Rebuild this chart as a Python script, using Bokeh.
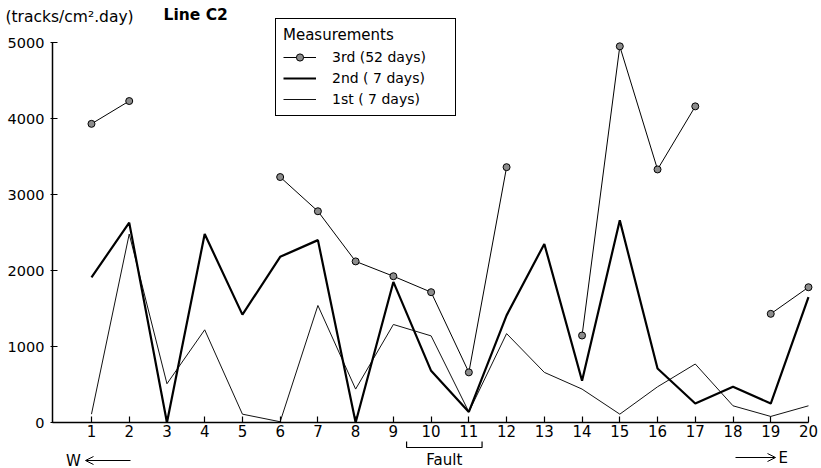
from bokeh.plotting import figure
from bokeh.models import (Range1d, FixedTicker, Legend, LegendItem, Label, Arrow,
                          OpenHead, PolyAnnotation)
from bokeh.embed import file_html
from bokeh.resources import INLINE

# ---------------- data ----------------
stations = list(range(1, 21))
nan = float("nan")
third_52days = [3930, 4230, nan, nan, nan, 3230, 2780, 2120, 1925, 1715,
                660, 3360, nan, 1145, 4950, 3330, 4160, nan, 1430, 1780]
second_7days = [1910, 2630, 0, 2480, 1420, 2180, 2400, 0, 1850, 680,
                140, 1410, 2350, 550, 2660, 710, 250, 470, 250, 1650]
first_7days = [110, 2480, 510, 1220, 110, 10, 1540, 440, 1290, 1140,
               140, 1170, 660, 440, 110, 470, 770, 220, 80, 220]
y_ticks = [0, 1000, 2000, 3000, 4000, 5000]
y_axis_span = (0, 5000)
x_axis_span = (-0.034, 20)
fault_span = [9.35, 11.35]

FONT = "DejaVu Sans"
W, H = 821, 468

p = figure(width=W, height=H, output_backend="svg", toolbar_location=None,
           x_range=Range1d(-1.411, 20.345), y_range=Range1d(-605, 5553),
           min_border=0, min_border_left=0, min_border_right=0,
           min_border_top=0, min_border_bottom=0)
p.xgrid.visible = False
p.ygrid.visible = False
p.outline_line_color = None
p.background_fill_color = "white"

for ax in (p.xaxis[0], p.yaxis[0]):
    ax.axis_line_width = 1.5
    ax.axis_line_color = "black"
    ax.major_tick_line_color = "black"
    ax.major_tick_line_width = 1.2
    ax.minor_tick_line_color = None
    ax.major_label_text_font = FONT
    ax.major_label_text_color = "black"

p.xaxis.fixed_location = 0
p.xaxis.bounds = x_axis_span
p.xaxis.ticker = FixedTicker(ticks=stations)
p.xaxis.major_tick_in = 6
p.xaxis.major_tick_out = 0
p.xaxis.major_label_standoff = 2
p.xaxis.major_label_text_font_size = "15px"

p.yaxis.fixed_location = x_axis_span[0]
p.yaxis.bounds = y_axis_span
p.yaxis.ticker = FixedTicker(ticks=y_ticks)
p.yaxis.major_tick_in = 5
p.yaxis.major_tick_out = 2
p.yaxis.major_label_standoff = 6
p.yaxis.major_label_text_font_size = "14.5px"

# series
r1 = p.line(stations, first_7days, line_color="#111111", line_width=1)
r2 = p.line(stations, second_7days, line_color="black", line_width=2.2)
r3l = p.line(stations, third_52days, line_color="black", line_width=1)
r3s = p.scatter(stations, third_52days, marker="circle", size=7,
                fill_color="#8c8c8c", line_color="black", line_width=1)

legend = Legend(items=[
    LegendItem(label="3rd (52 days)", renderers=[r3l, r3s]),
    LegendItem(label="2nd ( 7 days)", renderers=[r2]),
    LegendItem(label="1st ( 7 days)", renderers=[r1]),
], location=(275, 352), title="Measurements")
legend.title_text_font = FONT
legend.title_text_font_size = "15px"
legend.title_text_font_style = "normal"
legend.title_text_color = "black"
legend.title_standoff = 4
legend.label_text_font = FONT
legend.label_text_font_size = "14px"
legend.label_text_color = "black"
legend.glyph_width = 33
legend.glyph_height = 18
legend.label_height = 18
legend.label_width = 116
legend.label_standoff = 16
legend.spacing = 3
legend.padding = 7
legend.margin = 0
legend.border_line_color = "black"
legend.border_line_alpha = 1
legend.border_line_width = 1.5
legend.background_fill_color = "white"
legend.background_fill_alpha = 1
p.add_layout(legend)

# titles
p.add_layout(Label(x=5, y=452, x_units="screen", y_units="screen",
                   text="(tracks/cm².day)", text_font=FONT, text_font_size="15.5px",
                   text_color="black", text_baseline="middle", text_align="left"))
p.add_layout(Label(x=163, y=454, x_units="screen", y_units="screen",
                   text="Line C2", text_font=FONT, text_font_size="15.5px",
                   text_color="black", text_font_style="bold",
                   text_baseline="middle", text_align="left"))

# fault bracket
a, b = fault_span
p.add_layout(PolyAnnotation(xs=[a, a, b, b, b, a], xs_units="data",
                            ys=[27, 21, 21, 27, 21, 21], ys_units="screen",
                            fill_alpha=0, line_color="black", line_alpha=1,
                            line_width=1.2))
p.add_layout(Label(x=(a + b) / 2, y=9, x_units="data", y_units="screen",
                   text="Fault", text_font=FONT, text_font_size="15px",
                   text_color="black", text_baseline="middle", text_align="center"))

# W / E arrows
p.add_layout(Label(x=73, y=8, x_units="screen", y_units="screen",
                   text="W", text_font=FONT, text_font_size="15px",
                   text_color="black", text_baseline="middle", text_align="center"))
p.add_layout(Arrow(x_start=130, y_start=8, x_end=85, y_end=8,
                   start_units="screen", end_units="screen",
                   end=OpenHead(size=8, line_width=1), line_width=1))
p.add_layout(Arrow(x_start=735, y_start=11, x_end=775, y_end=11,
                   start_units="screen", end_units="screen",
                   end=OpenHead(size=8, line_width=1), line_width=1))
p.add_layout(Label(x=778, y=11, x_units="screen", y_units="screen",
                   text="E", text_font=FONT, text_font_size="15px",
                   text_color="black", text_baseline="middle", text_align="left"))

open("out.html", "w").write(file_html(p, INLINE))
